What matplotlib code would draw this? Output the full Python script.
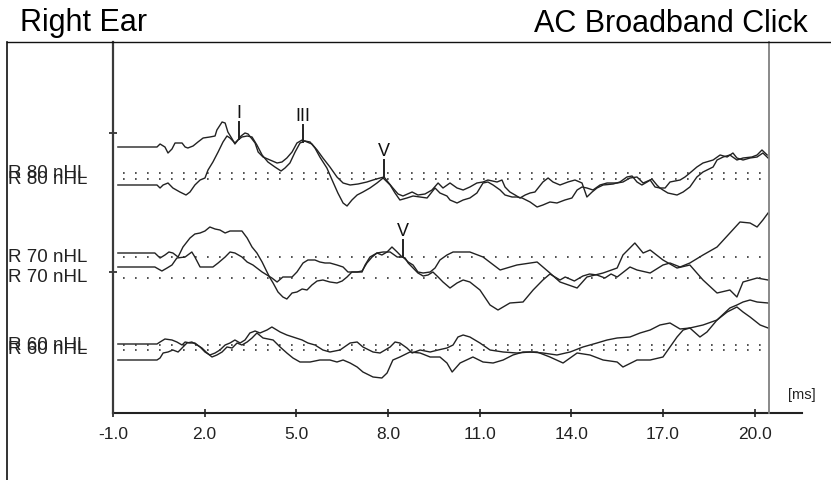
import numpy as np
import matplotlib.pyplot as plt
from matplotlib.lines import Line2D

plt.rcParams['font.family'] = ['Liberation Sans', 'DejaVu Sans']

# latency axis (ms)
x_ticks = [-1.0, 2.0, 5.0, 8.0, 11.0, 14.0, 17.0, 20.0]
scale_ticks = [141, 280]

# one label per trace (two runs per intensity)
levels = ["R 80 nHL", "R 80 nHL", "R 70 nHL", "R 70 nHL", "R 60 nHL", "R 60 nHL"]
# resting level of each trace on the stacked display
baselines = [240, 234, 156, 135, 68, 63]

# (latency ms, amplitude)
trace_80a = [(-0.84, 26), (0.44, 26), (0.54, 29), (0.70, 26), (0.80, 20), (0.93, 24), (1.03, 30), (1.26, 30),
             (1.36, 26), (1.45, 25), (1.62, 27), (1.78, 31), (1.95, 35), (2.17, 36), (2.34, 37), (2.40, 43),
             (2.57, 51), (2.67, 50), (2.76, 41), (2.90, 34), (2.99, 29), (3.09, 33), (3.19, 37), (3.32, 40),
             (3.42, 39), (3.55, 34), (3.65, 30), (3.75, 21), (3.91, 16), (4.14, 13), (4.37, 10), (4.53, 11),
             (4.69, 15), (4.86, 21), (5.02, 30), (5.19, 33), (5.35, 31), (5.51, 29), (5.68, 23), (5.87, 15),
             (6.10, 6), (6.33, -4), (6.53, -10), (6.76, -12), (7.02, -11), (7.31, -9), (7.51, -7), (7.74, -5),
             (7.87, -4), (8.00, -9), (8.16, -15), (8.33, -21), (8.49, -23), (8.79, -19), (8.98, -22), (9.21, -21),
             (9.44, -17), (9.64, -10), (9.80, -15), (10.03, -10), (10.26, -15), (10.46, -17), (10.68, -14),
             (10.91, -10), (11.11, -9), (11.27, -7), (11.57, -9), (11.73, -7), (11.83, -14), (11.99, -19),
             (12.16, -22), (12.32, -25), (12.49, -22), (12.65, -20), (12.81, -19), (13.07, -9), (13.24, -5),
             (13.40, -9), (13.63, -12), (13.89, -9), (14.12, -7), (14.35, -10), (14.51, -24), (14.68, -19),
             (14.84, -15), (15.04, -12), (15.37, -11), (15.59, -9), (15.82, -4), (15.99, -3), (16.15, -9),
             (16.31, -12), (16.48, -9), (16.64, -6), (16.80, -12), (16.90, -15), (17.00, -17), (17.16, -20),
             (17.46, -22), (17.66, -19), (17.88, -14), (18.11, -4), (18.31, 1), (18.64, 6), (18.77, 13),
             (18.97, 16), (19.19, 18), (19.42, 13), (19.62, 15), (19.91, 16), (20.08, 18), (20.24, 23), (20.41, 18)]

trace_80b = [(-0.84, -6), (0.44, -6), (0.54, -9), (0.64, -6), (0.80, -4), (0.96, -9), (1.19, -13), (1.39, -16),
             (1.52, -13), (1.68, -6), (1.85, -1), (2.01, 1), (2.11, 9), (2.27, 17), (2.44, 27), (2.60, 37),
             (2.73, 43), (2.83, 41), (2.99, 36), (3.09, 39), (3.22, 42), (3.39, 43), (3.55, 42), (3.71, 34),
             (3.88, 24), (4.07, 17), (4.30, 12), (4.50, 8), (4.63, 11), (4.79, 16), (4.96, 27), (5.12, 36),
             (5.28, 38), (5.45, 37), (5.61, 31), (5.77, 22), (6.00, 11), (6.20, -3), (6.36, -14), (6.53, -24),
             (6.66, -27), (6.82, -21), (6.99, -16), (7.18, -13), (7.41, -9), (7.64, -4), (7.84, 1), (8.07, -6),
             (8.23, -14), (8.39, -21), (8.62, -19), (8.82, -17), (9.05, -18), (9.28, -19), (9.54, -9), (9.70, -14),
             (9.93, -17), (10.03, -21), (10.26, -24), (10.46, -21), (10.68, -19), (10.91, -14), (11.11, -4),
             (11.27, -3), (11.44, -6), (11.67, -11), (11.83, -16), (12.06, -18), (12.22, -18), (12.39, -19),
             (12.65, -23), (12.88, -28), (13.07, -26), (13.30, -23), (13.53, -24), (13.79, -21), (14.02, -19),
             (14.19, -11), (14.35, -8), (14.51, -9), (14.71, -11), (14.94, -6), (15.17, -4), (15.50, -4),
             (15.69, -3), (15.92, 1), (16.15, 2), (16.35, -4), (16.58, -1), (16.74, -8), (16.90, -9), (17.07, -9),
             (17.23, -3), (17.56, -1), (17.72, 2), (17.88, 6), (18.11, 12), (18.31, 16), (18.64, 19), (18.87, 24),
             (19.10, 22), (19.29, 26), (19.42, 21), (19.62, 19), (19.85, 21), (20.08, 22), (20.27, 26), (20.44, 21)]

trace_70a = [(-0.84, 4), (0.37, 4), (0.54, -1), (0.70, 2), (0.83, 5), (0.96, 4), (1.13, 0), (1.29, 10),
             (1.52, 19), (1.68, 23), (1.85, 24), (2.01, 26), (2.17, 30), (2.34, 28), (2.50, 27), (2.67, 24),
             (2.83, 26), (3.06, 26), (3.22, 26), (3.39, 19), (3.55, 10), (3.71, 4), (3.88, -5), (4.04, -15),
             (4.14, -21), (4.24, -26), (4.40, -35), (4.56, -40), (4.69, -42), (4.86, -36), (5.02, -35),
             (5.19, -32), (5.35, -33), (5.51, -28), (5.68, -24), (5.87, -23), (6.10, -25), (6.33, -26),
             (6.50, -24), (6.66, -20), (6.82, -15), (6.99, -15), (7.15, -14), (7.31, -6), (7.48, 0), (7.64, 4),
             (7.80, 2), (7.97, 5), (8.13, 10), (8.30, 5), (8.46, 0), (8.56, -1), (8.66, -6), (8.82, -11),
             (8.98, -16), (9.15, -19), (9.31, -18), (9.47, -15), (9.64, -20), (9.80, -25), (10.03, -31),
             (10.26, -26), (10.46, -23), (10.68, -25), (11.01, -33), (11.34, -48), (11.60, -53), (11.99, -46),
             (12.42, -45), (12.75, -33), (13.07, -23), (13.30, -17), (13.63, -23), (13.80, -20), (14.10, -24),
             (14.38, -19), (14.60, -17), (14.84, -18), (15.10, -21), (15.30, -17), (15.50, -20), (15.92, -10),
             (16.15, -13), (16.58, -16), (17.00, -8), (17.23, -6), (17.56, -10), (17.88, -6), (18.31, 2),
             (18.77, 10), (19.19, 24), (19.52, 35), (19.85, 34), (20.08, 30), (20.27, 37), (20.44, 44)]

trace_70b = [(-0.84, 11), (0.37, 11), (0.60, 7), (0.77, 10), (0.93, 13), (1.09, 20), (1.36, 21), (1.58, 26),
             (1.68, 21), (1.85, 11), (2.08, 11), (2.27, 11), (2.44, 15), (2.67, 21), (2.83, 26), (2.99, 25),
             (3.22, 21), (3.39, 16), (3.58, 13), (3.88, 6), (4.04, 3), (4.20, 0), (4.37, -4), (4.56, 1),
             (4.86, 1), (5.02, 6), (5.22, 15), (5.38, 18), (5.61, 18), (5.77, 16), (5.94, 15), (6.10, 15),
             (6.33, 13), (6.53, 11), (6.69, 6), (6.92, 6), (7.15, 6), (7.25, 13), (7.41, 21), (7.64, 25),
             (7.84, 26), (8.07, 26), (8.30, 21), (8.49, 21), (8.66, 16), (8.82, 13), (8.98, 6), (9.15, 5),
             (9.38, 6), (9.54, 10), (9.70, 18), (9.93, 23), (10.13, 26), (10.36, 26), (10.68, 26), (11.11, 21),
             (11.67, 8), (12.22, 13), (12.88, 16), (13.30, 5), (13.63, -4), (14.19, -10), (14.51, 1), (15.04, 5),
             (15.50, 10), (15.69, 23), (16.08, 35), (16.35, 25), (16.58, 28), (17.00, 18), (17.46, 10),
             (17.88, 13), (18.31, -2), (18.77, -15), (19.19, -12), (19.42, -19), (19.62, -4), (20.08, 0),
             (20.44, -2)]

trace_60a = [(-0.84, 1), (0.44, 1), (0.54, 3), (0.70, 6), (0.93, 5), (1.09, 3), (1.26, 0), (1.36, 3),
             (1.52, 2), (1.68, 2), (1.85, -2), (2.01, -7), (2.17, -10), (2.34, -8), (2.50, -5), (2.67, 0),
             (2.83, 2), (2.99, 5), (3.16, 2), (3.32, 5), (3.48, 12), (3.65, 14), (3.81, 12), (4.04, 15),
             (4.20, 18), (4.47, 13), (4.69, 10), (4.89, 8), (5.19, 5), (5.38, 2), (5.61, 0), (5.87, -5),
             (6.10, -7), (6.43, -5), (6.76, 2), (6.99, 3), (7.18, -2), (7.51, -7), (7.74, -8), (8.07, -2),
             (8.23, 3), (8.39, 2), (8.62, -3), (8.79, -8), (9.05, -5), (9.38, -7), (9.64, -5), (9.93, -3),
             (10.13, 0), (10.29, 8), (10.46, 10), (10.68, 8), (11.01, 2), (11.34, -5), (11.77, -7), (12.22, -8),
             (12.65, -7), (13.07, -8), (13.53, -10), (13.96, -7), (14.38, -2), (14.84, 2), (15.17, 5),
             (15.50, 7), (15.92, 8), (16.25, 12), (16.58, 15), (16.90, 20), (17.23, 22), (17.56, 16),
             (17.88, 17), (18.21, 8), (18.44, 13), (18.77, 25), (19.10, 33), (19.42, 38), (19.62, 33),
             (19.85, 28), (20.18, 20), (20.44, 17)]

trace_60b = [(-0.84, -10), (0.44, -10), (0.54, -8), (0.64, -3), (0.80, -2), (0.96, 0), (1.13, -2), (1.26, 2),
             (1.42, 7), (1.58, 8), (1.75, 5), (1.91, 2), (2.08, -3), (2.24, -7), (2.40, -5), (2.57, -2),
             (2.73, 3), (2.90, 2), (3.06, 7), (3.22, 5), (3.39, 8), (3.55, 12), (3.71, 17), (3.91, 12),
             (4.24, 10), (4.47, 3), (4.69, -3), (4.89, -8), (5.12, -12), (5.45, -12), (5.77, -10), (6.10, -10),
             (6.33, -12), (6.53, -10), (6.76, -13), (6.99, -17), (7.18, -22), (7.51, -27), (7.80, -28),
             (7.97, -23), (8.16, -10), (8.39, -7), (8.72, -2), (9.05, -3), (9.38, -7), (9.70, -7), (9.93, -13),
             (10.10, -22), (10.36, -13), (10.78, -7), (11.11, -12), (11.44, -13), (11.77, -10), (12.09, -5),
             (12.42, -2), (12.88, -2), (13.30, -7), (13.73, -13), (14.19, -3), (14.61, -5), (15.04, -10),
             (15.50, -12), (15.69, -17), (16.15, -10), (16.58, -10), (17.00, -7), (17.46, 13), (17.66, 20),
             (17.88, 22), (18.31, 25), (18.77, 30), (19.19, 42), (19.42, 45), (19.62, 48), (19.85, 50),
             (20.08, 48), (20.44, 47)]

# marked peaks: name, latency (ms), trace it sits on
peak_names = ["I", "III", "V", "V"]
peak_ms = [3.12, 5.22, 7.87, 8.49]
peak_trace = [0, 1, 0, 3]

traces = [trace_80a, trace_80b, trace_70a, trace_70b, trace_60a, trace_60b]

W, H = 831, 480
fig = plt.figure(figsize=(W / 100, H / 100), dpi=100)
ax = fig.add_axes([113 / W, 1 - 413 / H, 656 / W, 371 / H])
ax.set_xlim(-1.0, 20.47)
ax.set_ylim(0, 371)

ink = '#222222'
for tr, base in zip(traces, baselines):
    t, a = np.array(tr).T
    ax.plot(t, a + base, color=ink, lw=1.0)
    ax.axhline(base, xmin=0.015, xmax=0.997, color='#333333', lw=1.2,
               linestyle=(0, (1.0, 6.2)))

for name, ms, k in zip(peak_names, peak_ms, peak_trace):
    t, a = np.array(traces[k]).T
    y0 = np.interp(ms, t, a) + baselines[k]
    ax.plot([ms, ms], [y0, y0 + 17], color=ink, lw=1.4)
    ax.text(ms, y0 + 21, name, ha='center', va='baseline', fontsize=13, color='#111')

for lab, base in zip(levels, baselines):
    ax.text(-0.16, base, lab, transform=ax.get_yaxis_transform(), ha='left', va='center',
            fontsize=13.5, color='#222')

# axes frame
for side in ['top', 'bottom']:
    ax.spines[side].set_visible(False)
ax.spines['left'].set_color('#3a3a3a')
ax.spines['left'].set_linewidth(1.6)
ax.spines['right'].set_color('#808080')
ax.spines['right'].set_linewidth(1.3)
ax.axhline(0, xmin=0, xmax=689 / 656, clip_on=False, color='#222', lw=1.5)

ax.set_xticks(x_ticks)
ax.set_xticklabels([f"{v:.1f}" for v in x_ticks])
ax.tick_params(axis='x', direction='inout', length=6, width=1.2, pad=7,
               labelsize=12.5, colors='#222')
ax.set_yticks(scale_ticks)
ax.set_yticklabels([])
ax.tick_params(axis='y', direction='inout', length=6, width=1.2, colors='#222')
ax.text(1.05, 18, "[ms]", transform=ax.get_yaxis_transform(), ha='center', va='center',
        fontsize=10.5, color='#222')

# header and page frame
fig.text(20 / W, 1 - 31.5 / H, "Right Ear", fontsize=22, ha='left', va='baseline')
fig.text(808 / W, 1 - 31.5 / H, "AC Broadband Click", fontsize=22, ha='right', va='baseline')
fig.add_artist(Line2D([7 / W, 1], [1 - 42 / H] * 2, color='#111', lw=1.0))
fig.add_artist(Line2D([7 / W] * 2, [0, 1 - 42 / H], color='#111', lw=1.2))

fig.savefig('out.png', dpi=100)
